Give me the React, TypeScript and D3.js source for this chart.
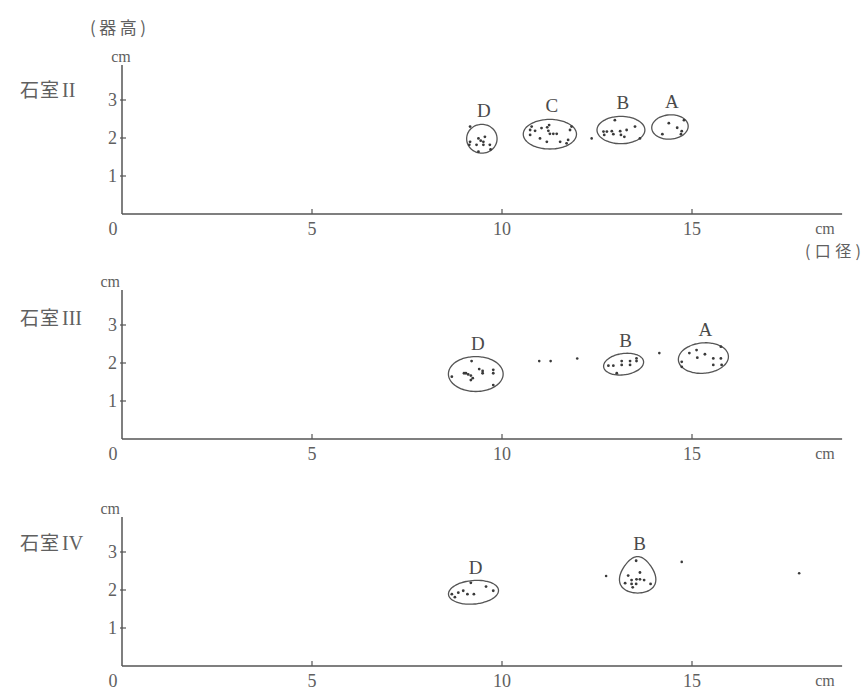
import React from "react";
import * as d3 from "d3";

// ---- data ----
const roomNames = ["II", "III", "IV"];
const xTicks = [5, 10, 15];
const yTicks = [1, 2, 3];

// 石室II
const room2D = [[9.16, 2.30], [9.38, 1.99], [9.44, 1.93], [9.51, 1.90], [9.55, 2.03], [9.16, 1.90], [9.14, 1.82], [9.33, 1.82], [9.51, 1.82], [9.68, 1.82], [9.38, 1.64], [9.70, 1.70]];
const room2C = [[10.78, 2.30], [10.74, 2.21], [10.87, 2.19], [11.04, 2.26], [11.19, 2.28], [11.24, 2.34], [11.22, 2.19], [11.26, 2.11], [11.35, 2.11], [11.44, 2.11], [11.0, 1.99], [11.18, 1.90], [11.53, 1.90], [11.70, 1.86], [11.79, 2.21], [11.83, 2.30], [11.74, 1.95], [10.74, 2.08]];
const room2B = [[12.67, 2.17], [12.76, 2.17], [12.69, 2.08], [12.89, 2.18], [12.93, 2.10], [13.11, 2.18], [13.13, 2.08], [13.28, 2.21], [12.97, 2.47], [13.50, 2.30], [13.63, 1.99], [13.22, 2.03]];
const room2A = [[14.39, 2.39], [14.61, 2.27], [14.22, 2.10], [14.73, 2.18], [14.79, 2.47], [14.71, 2.10]];
const room2Loose = [[12.36, 1.99]];

// 石室III
const room3D = [[9.20, 2.05], [9.0, 1.73], [9.05, 1.73], [9.11, 1.70], [9.18, 1.67], [9.23, 1.60], [9.18, 1.55], [9.40, 1.84], [9.49, 1.79], [9.49, 1.73], [9.77, 1.82], [9.77, 1.73], [9.77, 1.42], [8.68, 1.64]];
const room3B = [[12.80, 1.93], [12.93, 1.93], [13.15, 2.05], [13.15, 1.95], [13.37, 2.05], [13.37, 1.95], [13.54, 2.12], [13.54, 2.05], [13.02, 1.73]];
const room3A = [[14.93, 2.26], [15.12, 2.34], [15.14, 2.14], [15.34, 2.23], [15.56, 2.12], [15.76, 2.12], [15.56, 1.95], [15.78, 1.95], [14.73, 2.03], [14.73, 1.90], [15.76, 2.43]];
const room3Loose = [[10.98, 2.05], [11.28, 2.05], [11.98, 2.12], [14.14, 2.26]];

// 石室IV
const room4D = [[9.18, 2.19], [9.58, 2.09], [9.77, 1.98], [8.98, 1.98], [8.85, 1.93], [9.09, 1.89], [9.26, 1.89], [8.68, 1.89], [8.76, 1.81]];
const room4B = [[13.53, 2.77], [13.63, 2.46], [13.32, 2.38], [13.41, 2.26], [13.54, 2.28], [13.63, 2.28], [13.74, 2.26], [13.24, 2.18], [13.41, 2.16], [13.53, 2.16], [13.91, 2.16], [13.44, 2.07]];
const room4Loose = [[12.74, 2.37], [14.73, 2.74], [17.82, 2.44]];

// group envelopes: label, centre, radii (cm), tilt (deg), taper
const room2Groups = [
  { label: "D", cx: 9.47, cy: 1.98, rx: 0.40, ry: 0.38, rot: 0, taper: 0, pts: room2D },
  { label: "C", cx: 11.26, cy: 2.10, rx: 0.70, ry: 0.39, rot: 0, taper: 0, pts: room2C },
  { label: "B", cx: 13.13, cy: 2.21, rx: 0.63, ry: 0.36, rot: 0, taper: 0, pts: room2B },
  { label: "A", cx: 14.42, cy: 2.29, rx: 0.48, ry: 0.32, rot: -4, taper: 0, pts: room2A },
];
const room3Groups = [
  { label: "D", cx: 9.31, cy: 1.71, rx: 0.72, ry: 0.46, rot: 0, taper: 0, pts: room3D },
  { label: "B", cx: 13.2, cy: 1.97, rx: 0.53, ry: 0.28, rot: -8, taper: 0, pts: room3B },
  { label: "A", cx: 15.30, cy: 2.13, rx: 0.66, ry: 0.40, rot: -5, taper: 0, pts: room3A },
];
const room4Groups = [
  { label: "D", cx: 9.25, cy: 1.94, rx: 0.66, ry: 0.31, rot: -5, taper: 0, pts: room4D },
  { label: "B", cx: 13.57, cy: 2.40, rx: 0.46, ry: 0.48, rot: 0, taper: 0.3, pts: room4B },
];

const panels = [
  { room: roomNames[0], groups: room2Groups, loose: room2Loose },
  { room: roomNames[1], groups: room3Groups, loose: room3Loose },
  { room: roomNames[2], groups: room4Groups, loose: room4Loose },
];

// ---- layout ----
const W = 864, H = 700;
const X0 = 122, PX_PER_CM = 38;
const panelBase = [214, 439, 666];
const titleY = [97, 325, 550];
const cmLabel = [{ x: 121, anchor: "middle" }, { x: 120, anchor: "end" }, { x: 120, anchor: "end" }];
const serif = "'Liberation Serif', 'DejaVu Serif', serif";
const cjk = "'Noto Sans CJK JP', sans-serif";
const textCol = "#606060";
const lineCol = "#555";

const xScale = d3.scaleLinear().domain([0, 19]).range([X0, X0 + 19 * PX_PER_CM]);

function envelopePath(g: any, y: any) {
  const n = 72;
  const pts: [number, number][] = d3.range(n).map((i) => {
    const t = (i / n) * Math.PI * 2;
    const s = Math.sin(t);
    const dx = g.rx * Math.cos(t) * (1 - g.taper * s);
    const dy = g.ry * s;
    return [xScale(g.cx + dx), y(g.cy + dy)];
  });
  return d3.line().curve(d3.curveCardinalClosed)(pts) || "";
}

function Panel({ p, i }: { p: any; i: number }) {
  const base = panelBase[i];
  const y = d3.scaleLinear().domain([0, 3.9]).range([base, base - 3.9 * PX_PER_CM]);
  return (
    <g>
      {/* title */}
      <text x={20} y={titleY[i]} fill={textCol} fontSize={19}>
        <tspan fontFamily={cjk} letterSpacing={1}>石室</tspan>
        <tspan fontFamily={serif} dx={2} fontSize={20}>{p.room}</tspan>
      </text>
      {/* axes */}
      <line x1={xScale(0)} x2={xScale(0)} y1={y(0)} y2={y(3.92)} stroke={lineCol} strokeWidth={1.5} />
      <line x1={xScale(0)} x2={xScale(18.95)} y1={y(0)} y2={y(0)} stroke={lineCol} strokeWidth={1.5} />
      {yTicks.map((t) => (
        <g key={"y" + t}>
          <line x1={xScale(0) - 2} x2={xScale(0) + 4} y1={y(t)} y2={y(t)} stroke={lineCol} strokeWidth={1.2} />
          <text x={xScale(0) - 5} y={y(t) + 6} textAnchor="end" fontFamily={serif} fontSize={18} fill={textCol}>{t}</text>
        </g>
      ))}
      {xTicks.map((t) => (
        <g key={"x" + t}>
          <line x1={xScale(t)} x2={xScale(t)} y1={y(0)} y2={y(0) - 5} stroke={lineCol} strokeWidth={1.2} />
          <text x={xScale(t)} y={y(0) + 21} textAnchor="middle" fontFamily={serif} fontSize={18} fill={textCol}>{t}</text>
        </g>
      ))}
      <text x={xScale(0) - 9} y={y(0) + 21} textAnchor="middle" fontFamily={serif} fontSize={18} fill={textCol}>0</text>
      <text x={cmLabel[i].x} y={y(3.9) - 4} textAnchor={cmLabel[i].anchor as any} fontFamily={serif} fontSize={16} fill={textCol}>cm</text>
      <text x={xScale(18.5)} y={y(0) + 20} textAnchor="middle" fontFamily={serif} fontSize={16} fill={textCol}>cm</text>
      {/* groups */}
      {p.groups.map((g: any) => {
        const cx = xScale(g.cx), cy = y(g.cy);
        return (
          <g key={g.label}>
            <path d={envelopePath(g, y)} fill="none" stroke={lineCol} strokeWidth={1.3}
              transform={`rotate(${g.rot} ${cx} ${cy})`} />
            <text x={cx + 2} y={y(g.cy + g.ry) - 7} textAnchor="middle" fontFamily={serif} fontSize={19} fill="#4a4a4a">{g.label}</text>
            {g.pts.map((d: number[], k: number) => (
              <circle key={k} cx={xScale(d[0])} cy={y(d[1])} r={1.4} fill="#3a3a3a" />
            ))}
          </g>
        );
      })}
      {p.loose.map((d: number[], k: number) => (
        <circle key={"l" + k} cx={xScale(d[0])} cy={y(d[1])} r={1.3} fill="#3a3a3a" />
      ))}
    </g>
  );
}

export default function App() {
  return (
    <svg width={W} height={H} style={{ position: "absolute", left: 0, top: 0, background: "#fff" }}>
      <rect x={0} y={0} width={W} height={H} fill="#fff" />
      <text x={90} y={34} fontFamily={cjk} fontSize={17} fill={textCol} textLength={56} lengthAdjust="spacing">(器高)</text>
      <text x={805} y={257} fontFamily={cjk} fontSize={16} fill={textCol} textLength={56} lengthAdjust="spacing">(口径)</text>
      {panels.map((p, i) => (
        <Panel key={i} p={p} i={i} />
      ))}
    </svg>
  );
}
